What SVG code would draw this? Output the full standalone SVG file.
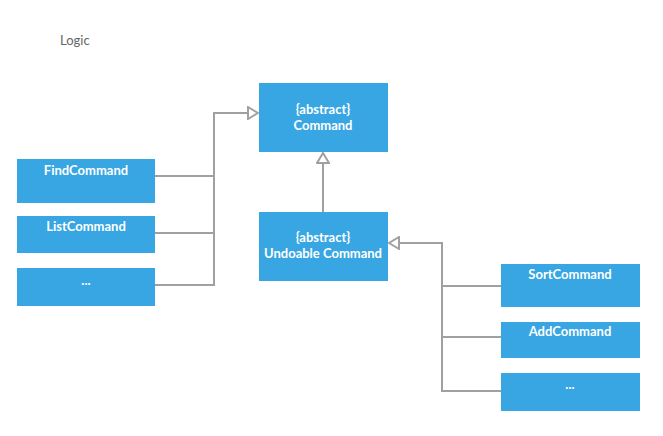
<svg xmlns="http://www.w3.org/2000/svg" width="663" height="436" viewBox="0 0 663 436">
  <defs>
    <marker id="gen" markerWidth="12" markerHeight="14" refX="11" refY="7" orient="auto" markerUnits="userSpaceOnUse">
      <path d="M1,1 L11,7 L1,13 Z" fill="#ffffff" stroke="#a0a0a0" stroke-width="2"/>
    </marker>
    <style>
      .box { fill: #37a6e2; }
      .lbl { font-family: Lato, "Liberation Sans", sans-serif; font-size: 13px; font-weight: bold; fill: #ffffff; text-anchor: middle; }
      .title { font-family: Lato, "Liberation Sans", sans-serif; font-size: 13px; fill: #666666; }
      .wire { fill: none; stroke: #a0a0a0; stroke-width: 2; }
    </style>
  </defs>
  <rect width="663" height="436" fill="#ffffff"/>
  <text class="title" x="60" y="45">Logic</text>

  <g id="connectors">
    <path class="wire" d="M152,176 H214 M152,233 H214 M152,285 H214 V113 H258" marker-end="url(#gen)"/>
    <path class="wire" d="M323,212 V153" marker-end="url(#gen)"/>
    <path class="wire" d="M505,286 H442 M505,337 H442 M505,391 H442 V243 H389" marker-end="url(#gen)"/>
  </g>

  <g id="command">
    <rect class="box" x="259" y="83" width="129" height="69"/>
    <text class="lbl" x="323" y="114">{abstract}</text>
    <text class="lbl" x="323" y="130">Command</text>
  </g>
  <g id="undoable-command">
    <rect class="box" x="259" y="212" width="129" height="69"/>
    <text class="lbl" x="323" y="242">{abstract}</text>
    <text class="lbl" x="323" y="258">Undoable Command</text>
  </g>
  <g id="find-command">
    <rect class="box" x="17" y="159" width="138" height="44"/>
    <text class="lbl" x="86" y="175">FindCommand</text>
  </g>
  <g id="list-command">
    <rect class="box" x="17" y="216" width="138" height="37"/>
    <text class="lbl" x="86" y="231">ListCommand</text>
  </g>
  <g id="more-left">
    <rect class="box" x="17" y="268" width="138" height="38"/>
    <text class="lbl" x="86" y="285">...</text>
  </g>
  <g id="sort-command">
    <rect class="box" x="501" y="264" width="139" height="43"/>
    <text class="lbl" x="570" y="279">SortCommand</text>
  </g>
  <g id="add-command">
    <rect class="box" x="501" y="322" width="139" height="36"/>
    <text class="lbl" x="570" y="336">AddCommand</text>
  </g>
  <g id="more-right">
    <rect class="box" x="501" y="373" width="139" height="38"/>
    <text class="lbl" x="570" y="389">...</text>
  </g>
</svg>
